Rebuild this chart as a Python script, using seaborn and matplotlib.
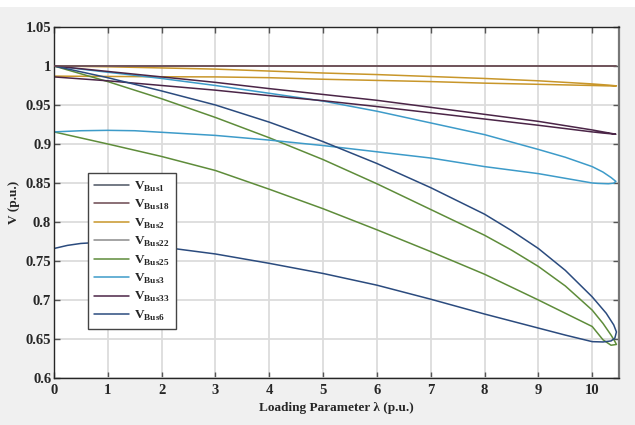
import numpy as np
import pandas as pd
import matplotlib
matplotlib.use('Agg')
import matplotlib.pyplot as plt
import seaborn as sns
from matplotlib.patches import Rectangle

# ---- DATA ----
# each bus: loading parameter along the nose curve (upper branch, then back along lower branch)
bus_names = ['Bus1', 'Bus18', 'Bus2', 'Bus22', 'Bus25', 'Bus3', 'Bus33', 'Bus6']

lam_flat = [0, 10.45]
v_bus1 = [1.0, 1.0]
v_bus18 = [1.0, 1.0]
v_bus22 = [1.0, 1.0]

lam_bus2 = [0, 1, 2, 3, 4, 5, 6, 7, 8, 9, 10, 10.3, 10.45,
            10.3, 10, 9, 8, 7, 6, 5, 4, 3, 2, 1, 0]
v_bus2 = [1.0, 0.999, 0.9975, 0.996, 0.9935, 0.991, 0.989, 0.9865, 0.984, 0.981, 0.977, 0.9755, 0.9745,
          0.9745, 0.975, 0.9765, 0.978, 0.980, 0.9815, 0.983, 0.985, 0.986, 0.9862, 0.9866, 0.987]

lam_bus25 = [0, 1, 2, 3, 4, 5, 6, 7, 8, 8.5, 9, 9.5, 10, 10.2, 10.35, 10.42, 10.45,
             10.35, 10.2, 10, 9.5, 9, 8, 7, 6, 5, 4, 3, 2, 1, 0]
v_bus25 = [1.0, 0.980, 0.958, 0.934, 0.908, 0.880, 0.849, 0.816, 0.783, 0.764, 0.743, 0.718, 0.687, 0.670, 0.655, 0.647, 0.643,
           0.642, 0.649, 0.666, 0.683, 0.700, 0.733, 0.762, 0.790, 0.817, 0.842, 0.866, 0.884, 0.900, 0.9155]

lam_bus3 = [0, 1, 2, 3, 4, 5, 6, 7, 8, 9, 9.5, 10, 10.2, 10.35, 10.44,
            10.4, 10.3, 10.1, 10, 9.5, 9, 8, 7, 6, 5, 4, 3, 2, 1.5, 1, 0.5, 0]
v_bus3 = [1.0, 0.992, 0.984, 0.975, 0.965, 0.955, 0.942, 0.927, 0.912, 0.893, 0.883, 0.871, 0.864, 0.857, 0.852,
          0.8497, 0.849, 0.8495, 0.850, 0.856, 0.862, 0.871, 0.882, 0.890, 0.898, 0.905, 0.911, 0.915, 0.917, 0.9175, 0.917, 0.9155]

lam_bus33 = [0, 1, 2, 3, 4, 5, 6, 7, 8, 9, 10, 10.44,
             10.2, 10, 9, 8, 7, 6, 5, 4, 3, 2, 1, 0]
v_bus33 = [1.0, 0.993, 0.986, 0.979, 0.971, 0.9635, 0.956, 0.947, 0.938, 0.929, 0.918, 0.9125,
           0.914, 0.9155, 0.924, 0.932, 0.940, 0.948, 0.9555, 0.962, 0.969, 0.975, 0.981, 0.986]

lam_bus6 = [0, 1, 2, 3, 4, 5, 6, 7, 8, 8.5, 9, 9.5, 10, 10.26, 10.4, 10.45,
            10.42, 10.35, 10.2, 10, 9.5, 9, 8, 7, 6, 5, 4, 3, 2, 1.5, 1, 0.75, 0.5, 0.25, 0]
v_bus6 = [1.0, 0.985, 0.968, 0.950, 0.928, 0.903, 0.875, 0.844, 0.810, 0.789, 0.766, 0.738, 0.704, 0.683, 0.668, 0.659,
          0.651, 0.6475, 0.6462, 0.6466, 0.655, 0.664, 0.682, 0.701, 0.719, 0.734, 0.747, 0.759, 0.768, 0.771, 0.773, 0.7735, 0.7725, 0.770, 0.766]

curves = {
    'Bus1': (lam_flat, v_bus1),
    'Bus18': (lam_flat, v_bus18),
    'Bus2': (lam_bus2, v_bus2),
    'Bus22': (lam_flat, v_bus22),
    'Bus25': (lam_bus25, v_bus25),
    'Bus3': (lam_bus3, v_bus3),
    'Bus33': (lam_bus33, v_bus33),
    'Bus6': (lam_bus6, v_bus6),
}

colors = {
    'Bus1': '#4d5563',
    'Bus18': '#6b4850',
    'Bus2': '#c8962a',
    'Bus22': '#8c8c8c',
    'Bus25': '#5e8c3a',
    'Bus3': '#3d9bc9',
    'Bus33': '#4b2547',
    'Bus6': '#2b4b7e',
}

x_ticks = [0, 1, 2, 3, 4, 5, 6, 7, 8, 9, 10]
y_ticks = [0.6, 0.65, 0.7, 0.75, 0.8, 0.85, 0.9, 0.95, 1.0, 1.05]
y_tick_labels = ['0.6', '0.65', '0.7', '0.75', '0.8', '0.85', '0.9', '0.95', '1', '1.05']

# ---- STYLE ----
sns.set_theme(style='whitegrid')
plt.rcParams['font.family'] = ['Liberation Serif', 'DejaVu Serif']
plt.rcParams['font.weight'] = 'bold'
plt.rcParams['mathtext.fontset'] = 'custom'
plt.rcParams['mathtext.rm'] = 'Liberation Serif'
plt.rcParams['mathtext.bf'] = 'Liberation Serif:bold'

fig = plt.figure(figsize=(6.35, 4.25), dpi=100, facecolor='#f0f0f0')
ax = fig.add_axes([0.085, 0.1106, 0.89, 0.8259])
ax.set_facecolor('white')

# white strip along the top edge, as in the screenshot
fig.patches.append(Rectangle((0, 0.983), 1, 0.017, transform=fig.transFigure,
                             facecolor='white', edgecolor='none', zorder=0))

for name in bus_names:
    lam, v = curves[name]
    df = pd.DataFrame({'lam': lam, 'V': v})
    z = 3 if name == 'Bus18' else 2
    sns.lineplot(data=df, x='lam', y='V', sort=False, estimator=None, ax=ax,
                 color=colors[name], linewidth=1.1, zorder=z,
                 label=r'$\mathbf{V}_{\mathbf{' + name + '}}$')

ax.set_xlim(0, 10.5)
ax.set_ylim(0.6, 1.05)
ax.set_xticks(x_ticks)
ax.set_xticklabels([str(t) for t in x_ticks])
ax.set_yticks(y_ticks)
ax.set_yticklabels(y_tick_labels)

ax.grid(True, color='#dcdcdc', linewidth=1.3)
ax.set_axisbelow(True)
for side in ['left', 'bottom', 'top', 'right']:
    ax.spines[side].set_visible(True)
    ax.spines[side].set_color('#262626')
    ax.spines[side].set_linewidth(1.0)
ax.spines['right'].set_color('#777777')
ax.spines['right'].set_linewidth(1.6)

ax.tick_params(axis='both', which='both', direction='in', length=4, width=1,
               color='#555555', top=True, right=True, bottom=True, left=True,
               labelsize=10.5, pad=2)
ax.tick_params(axis='x', pad=4)
for lbl in ax.get_xticklabels() + ax.get_yticklabels():
    lbl.set_fontweight('bold')

ax.set_xlabel('Loading Parameter λ (p.u.)', fontsize=9.5, fontweight='bold', labelpad=4)
ax.set_ylabel('V (p.u.)', fontsize=9.5, fontweight='bold', labelpad=4)

leg = ax.legend(loc='upper left', bbox_to_anchor=(0.06, 0.584), borderaxespad=0,
                fontsize=9.5, frameon=True, fancybox=False, framealpha=1,
                edgecolor='#444444', handlelength=2.6, handletextpad=0.4,
                labelspacing=0.33, borderpad=0.5)
leg.get_frame().set_linewidth(1.0)

fig.savefig('out.png', dpi=100, facecolor=fig.get_facecolor())
